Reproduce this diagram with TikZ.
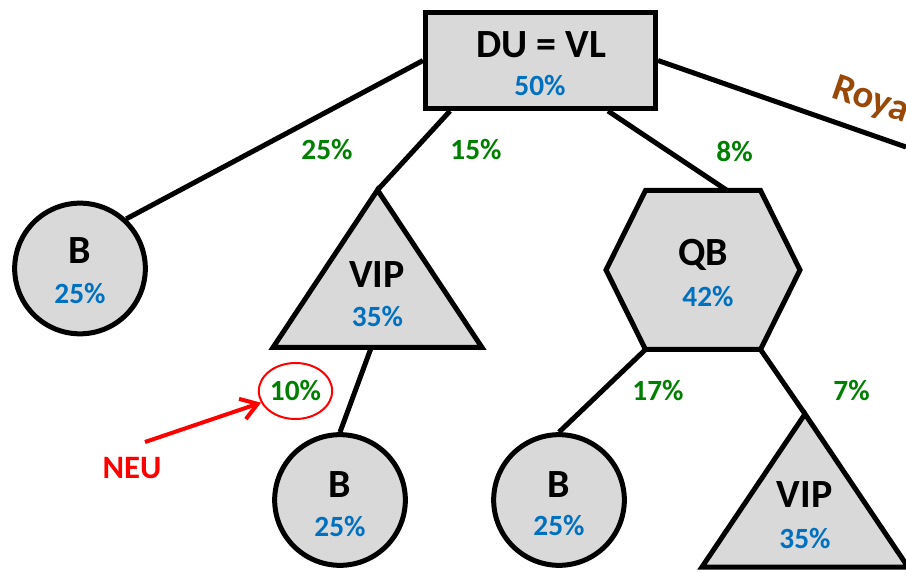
\documentclass[tikz,border=0pt]{standalone}
\usepackage{fontspec}
\setmainfont{Carlito}
\usetikzlibrary{shapes.geometric}
\usetikzlibrary{arrows.meta}
\usetikzlibrary{calc}
\usepackage{xcolor}
\definecolor{shapegrey}{RGB}{217,217,217}
\definecolor{valblue}{RGB}{0,112,192}
\definecolor{probgreen}{RGB}{0,128,0}
\definecolor{royalbrown}{RGB}{152,72,7}

\begin{document}
\begin{tikzpicture}[x=0.75pt,y=0.75pt,yscale=-1,xscale=1,
  shp/.style={draw=black,line width=3.75pt,fill=shapegrey},
  edge/.style={line width=3.75pt},
  kind/.style={font=\fontsize{30}{36}\selectfont\bfseries,inner sep=0.75pt},
  val/.style={font=\fontsize{22}{26}\selectfont\bfseries,text=valblue,inner sep=0.75pt},
  prob/.style={font=\fontsize{22}{26}\selectfont\bfseries,text=probgreen,inner sep=0.75pt}]
\useasboundingbox (0,0) rectangle (906,573);
\clip (0,0) rectangle (906,573);

%Shape: Rectangle
\node [shp,minimum width=172.5pt,minimum height=72pt,inner sep=0pt] (root) at (540.5,60.5) {};
%Shape: Circle
\node [shp,circle,minimum size=98pt,inner sep=0pt] (bL) at (80,268.5) {};
\node [shp,circle,minimum size=98pt,inner sep=0pt] (bM) at (340,500) {};
\node [shp,circle,minimum size=98pt,inner sep=0pt] (bR) at (559,500) {};
%Shape: Triangle
\coordinate (vA) at (377.5,190);
\coordinate (vB) at (273,347.5);
\coordinate (vC) at (482,347.5);
\draw [shp] (vA) -- (vB) -- (vC) -- cycle;
%Shape: Triangle
\coordinate (wA) at (805,414);
\coordinate (wB) at (702,567);
\coordinate (wC) at (908,567);
\draw [shp] (wA) -- (wB) -- (wC) -- cycle;
%Shape: Hexagon
\coordinate (qA) at (645.5,190.5);
\coordinate (qB) at (760.5,190.5);
\coordinate (qC) at (800,270);
\coordinate (qD) at (760.5,349.5);
\coordinate (qE) at (645.5,349.5);
\coordinate (qF) at (606,270);
\draw [shp] (qA) -- (qB) -- (qC) -- (qD) -- (qE) -- (qF) -- cycle;
\coordinate (royalEnd) at (906,147);

%Straight Lines
\draw [edge] (root.west) -- (bL.47);
\draw [edge] ($(root.south west)+(27,0)$) -- (vA);
\draw [edge] ($(root.south east)+(-50,0)$) -- ($(qA)!0.71!(qB)$);
\draw [edge] (root.east) -- (royalEnd);
\draw [edge] ($(vB)!0.47!(vC)$) -- (bM.north);
\draw [edge] (qE) -- (bR.north);
\draw [edge] (qD) -- (wA);

% Text Node
\node [kind] (rootT) at (541,44.5) {DU = VL};
\node [val] (rootV) at (540,86) {50\%};
\node [kind] (bLT) at (80,250.5) {B};
\node [val] (bLV) at (80,293.5) {25\%};
\node [kind] (vipT) at (377,274.5) {VIP};
\node [val] (vipV) at (377.5,316.5) {35\%};
\node [kind] (qbT) at (703,255) {QB};
\node [val] (qbV) at (708,296.5) {42\%};
\node [kind] (bMT) at (340,485) {B};
\node [val] (bMV) at (340,526.5) {25\%};
\node [kind] (bRT) at (559,485) {B};
\node [val] (bRV) at (559,526) {25\%};
\node [kind] (vip2T) at (804.5,495) {VIP};
\node [val] (vip2V) at (805,538.5) {35\%};
% Text Node
\node [prob] (p25) at (327,150) {25\%};
\node [prob] (p15) at (476,150) {15\%};
\node [prob] (p8) at (734.5,151) {8\%};
\node [prob] (p17) at (658,391) {17\%};
\node [prob] (p7) at (851.5,391) {7\%};
\node [prob,ellipse,draw=red,line width=1.5pt,minimum width=55pt,minimum height=42pt,inner sep=0pt] (p10) at (295.5,391) {10\%};
% Text Node
\node [font=\fontsize{24.5}{29}\selectfont\bfseries,text=red,inner sep=0.75pt] (neu) at (132,468) {NEU};
\node [font=\fontsize{29}{35}\selectfont\bfseries,text=royalbrown,inner sep=0pt,anchor=base west,rotate=-19] (royal) at (830,97) {Roya};

%Straight Lines
\draw [red,line width=3pt,-{Straight Barb[length=12pt,width=16pt]}] ($(neu.north)+(13,-14)$) -- (p10);

\end{tikzpicture}
\end{document}
